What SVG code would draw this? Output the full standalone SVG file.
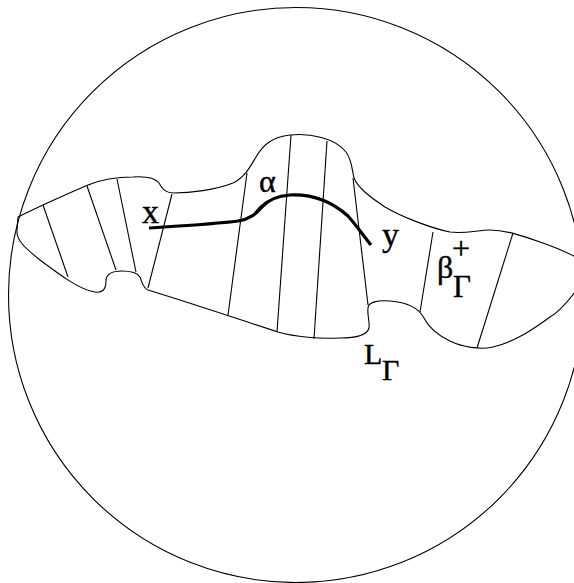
<svg xmlns="http://www.w3.org/2000/svg" width="574" height="583" viewBox="0 0 574 583">
<style>
.thin{fill:none;stroke:#000;stroke-width:1.1}
.thick{fill:none;stroke:#000;stroke-width:3.2}
text{font-family:"Liberation Serif","Times New Roman",serif;fill:#000;stroke:#000;stroke-width:0.4}
</style>
<rect width="574" height="583" fill="#fff"/>
<g id="disc"><circle class="thin" cx="296" cy="295" r="287.5"/></g>
<g id="region">
<path class="thin" d="M18,217 C30,211 60,197 88,185 C100,180 115,177 133,177 C148,176 155,178 159,183 C163,190 166,193 174,193 C190,193 215,190 233,183 C245,177 250,167 256,157 C263,145 272,137 290,135 C310,133 335,138 346,152 C352,160 352,170 354,178 C358,188 370,197 385,207 C400,216 430,228 450,232 C465,234 478,230 490,230 C505,230 520,235 540,242 C555,247 566,252 578,258 L578,288 C572,296 562,310 550,317 C535,328 515,342 493,347 C480,350 462,347 450,341 C435,334 428,326 424,318 C418,307 405,302 390,301 C378,300 368,302 368,308 C367,315 370,322 369,328 C367,336 355,338 340,338 C320,339 295,337 278,332 C250,323 200,306 148,290 C143,288 142,282 140,277 C137,272 130,271 122,271 C110,271 106,275 106,281 C106,290 102,293 95,292 C80,290 60,275 40,260 C25,248 16,240 17,230 Z"/>
</g>
<g id="fibres" class="thin">
<line x1="43" y1="205" x2="68" y2="277"/>
<line x1="87" y1="186" x2="116" y2="270"/>
<line x1="117" y1="179" x2="136" y2="272"/>
<line x1="172" y1="194" x2="148" y2="288"/>
<line x1="247" y1="173" x2="228" y2="315"/>
<line x1="291" y1="135" x2="277" y2="332"/>
<line x1="327" y1="141" x2="314" y2="339"/>
<line x1="353" y1="178" x2="368" y2="305"/>
<line x1="433" y1="232" x2="420" y2="312"/>
<line x1="513" y1="233" x2="477" y2="348"/>
</g>
<g id="connectors">
<path id="path-alpha" class="thick" d="M149,228 C180,226 215,224 238,221 C250,219 256,214 262,207 C268,200 276,196 290,195 C310,194 330,200 348,216 C356,225 363,235 371,245"/>
<path class="thin" d="M255,212 C260,205 266,200 278,197"/>
</g>
<g id="labels">
<text x="142" y="223" font-size="34">x</text>
<text x="259" y="192" font-size="32">α</text>
<text x="382" y="246" font-size="34">y</text>
<text x="437" y="278" font-size="32">β</text>
<text x="452" y="259" font-size="32">+</text>
<text x="453" y="297" font-size="31">Γ</text>
<text x="364" y="364" font-size="30">L</text>
<text x="382" y="380" font-size="30">Γ</text>
</g>
</svg>
